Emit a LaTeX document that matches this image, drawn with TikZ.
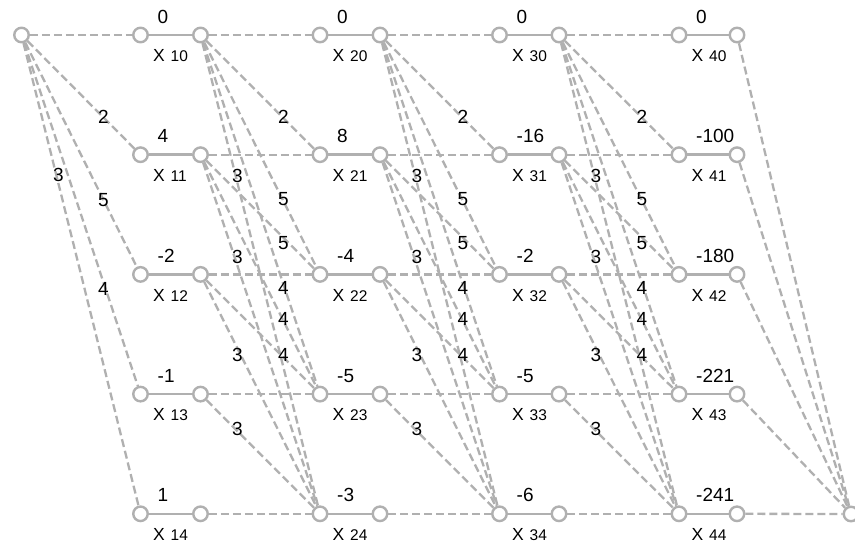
\documentclass[tikz,border=0pt]{standalone}
\usepackage{fontspec}
\setmainfont{Liberation Sans}
\usetikzlibrary{calc}
\definecolor{lg}{RGB}{176,176,176}
\tikzset{
 circ/.style={circle,draw=lg,line width=2.4pt,fill=white,minimum size=14.5pt,inner sep=0pt},
 link/.style={draw=lg,line width=2.5pt},
 dedge/.style={draw=lg,line width=2.3pt,dash pattern=on 8pt off 4pt},
 wlab/.style={font=\fontsize{19}{19}\selectfont,inner sep=0pt},
 vlab/.style={font=\fontsize{19}{19}\selectfont,inner sep=0pt,anchor=base west},
 xlab/.style={inner sep=0pt,anchor=base west},
}
\begin{document}
\begin{tikzpicture}[x=1pt,y=-1pt]
\fill[white] (0,0) rectangle (855,544);
\useasboundingbox (0,0) rectangle (855,544);
% source and sink
\node[circ] (S) at (21.5,35) {};
\node[circ] (T) at (851,514) {};
% stage nodes
\foreach \s/\xl/\xr/\vals in {1/140.5/200.5/{0,4,-2,-1,1}, 2/320/380/{0,8,-4,-5,-3}, 3/499.5/559/{0,-16,-2,-5,-6}, 4/679/737/{0,-100,-180,-221,-241}} {
  \foreach \v [count=\r from 0] in \vals {
    \pgfmathsetmacro{\yy}{35+119.7*\r}
    \node[circ] (L\s\r) at (\xl,\yy) {};
    \node[circ] (R\s\r) at (\xr,\yy) {};
    \draw[link] (L\s\r) -- (R\s\r);
    \node[vlab] (V\s\r) at (\xl+17,\yy-12) {\v};
    \node[xlab] (N\s\r) at (\xl+12.3,\yy+26.8) {{\fontsize{17.5}{17.5}\selectfont X}\hspace{6pt}{\fontsize{15.5}{15.5}\selectfont \s\r}};
  }
}
% source edges
\foreach \r in {0,...,4} { \draw[dedge] (S) -- (L1\r); }
\foreach \j/\dx/\dy/\w in {1/82/82/2, 2/82/165/5, 3/82/254/4, 4/37/140/3} {
  \node[wlab] (SW\j) at ($(S)+(\dx,\dy)$) {\w};
}
% stage edges
\foreach \s [evaluate=\s as \n using int(\s+1)] in {1,2,3} {
  \foreach \i in {0,...,4} {
    \foreach \j in {\i,...,4} {
      \draw[dedge] (R\s\i) -- (L\n\j);
    }
  }
  \foreach \i/\j/\dx/\dy/\w in {0/1/83/82/2, 0/2/83/164/5, 0/3/83/253/4, 0/4/37/141/3, 1/2/83/88/5, 1/3/83/164/4, 1/4/37/102/3, 2/3/83/81/4, 2/4/37/81/3, 3/4/37/35/3} {
    \node[wlab] (W\s\i\j) at ($(R\s\i)+(\dx,\dy)$) {\w};
  }
}
% sink edges
\foreach \r in {0,...,4} { \draw[dedge] (R4\r) -- (T); }
\end{tikzpicture}
\end{document}
